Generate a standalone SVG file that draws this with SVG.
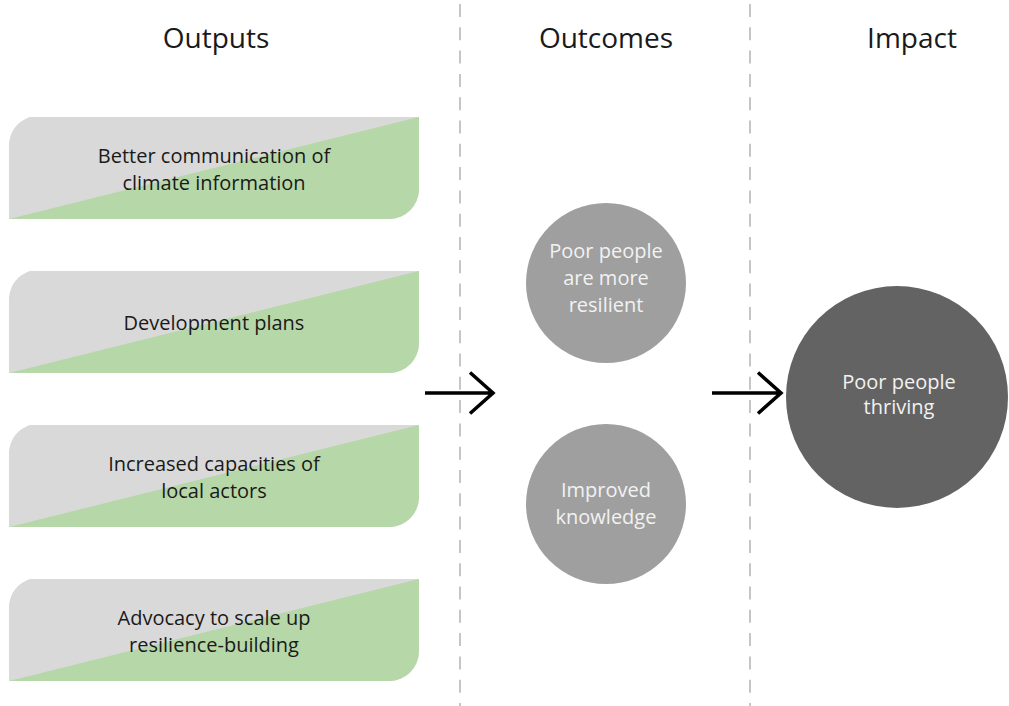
<svg xmlns="http://www.w3.org/2000/svg" width="1009" height="706" viewBox="0 0 1009 706">
  <defs>
    <style>
      .head { font-family: "Open Sans", "DejaVu Sans", sans-serif; font-size: 28px; fill: #1a1a1a; text-anchor: middle; }
      .lbl { font-family: "Open Sans", "DejaVu Sans", sans-serif; font-size: 20px; fill: #1a1a1a; text-anchor: middle; }
      .clbl { font-family: "Open Sans", "DejaVu Sans", sans-serif; font-size: 20px; fill: #f2f2f2; text-anchor: middle; }
      .sep { stroke: #a0a0a0; stroke-width: 1.2; stroke-dasharray: 13 10.3; fill: none; }
      .arrow { stroke: #000; stroke-width: 3.5; fill: none; }
      .grey { fill: #d9d9d9; }
      .green { fill: #b6d7a8; }
      .outcome { fill: #9f9f9f; }
      .impact { fill: #636363; }
    </style>
    <!-- output box shape: rounded top-left and bottom-right corners -->
    <path id="boxShape" d="M39,0 H410 V72 A30,30 0 0 1 380,102 H0 V30 A30,30 0 0 1 39,0 Z"/>
    <clipPath id="boxClip"><use href="#boxShape"/></clipPath>
    <g id="box">
      <g clip-path="url(#boxClip)">
        <rect class="grey" x="0" y="0" width="410" height="102"/>
        <polygon class="green" points="0,102 410,0 410,102"/>
      </g>
    </g>
  </defs>

  <rect width="1009" height="706" fill="#ffffff"/>

  <!-- column separators -->
  <g id="separators">
    <line class="sep" x1="460" y1="4" x2="460" y2="706"/>
    <line class="sep" x1="750" y1="4" x2="750" y2="706"/>
  </g>

  <!-- column headings -->
  <g id="headings">
    <text class="head" x="216" y="48">Outputs</text>
    <text class="head" x="606" y="48">Outcomes</text>
    <text class="head" x="912" y="48">Impact</text>
  </g>

  <!-- outputs -->
  <g id="output1" transform="translate(9,117)">
    <use href="#box"/>
    <text class="lbl" x="205" y="46">Better communication of</text>
    <text class="lbl" x="205" y="73">climate information</text>
  </g>
  <g id="output2" transform="translate(9,271)">
    <use href="#box"/>
    <text class="lbl" x="205" y="59">Development plans</text>
  </g>
  <g id="output3" transform="translate(9,425)">
    <use href="#box"/>
    <text class="lbl" x="205" y="46">Increased capacities of</text>
    <text class="lbl" x="205" y="73">local actors</text>
  </g>
  <g id="output4" transform="translate(9,579)">
    <use href="#box"/>
    <text class="lbl" x="205" y="46">Advocacy to scale up</text>
    <text class="lbl" x="205" y="73">resilience-building</text>
  </g>

  <!-- outcomes -->
  <g id="outcome1">
    <circle class="outcome" cx="606" cy="283" r="80"/>
    <text class="clbl" x="606" y="258">Poor people</text>
    <text class="clbl" x="606" y="285">are more</text>
    <text class="clbl" x="606" y="312">resilient</text>
  </g>
  <g id="outcome2">
    <circle class="outcome" cx="606" cy="504" r="80"/>
    <text class="clbl" x="606" y="497">Improved</text>
    <text class="clbl" x="606" y="524">knowledge</text>
  </g>

  <!-- impact -->
  <g id="impact">
    <circle class="impact" cx="897" cy="397" r="111"/>
    <text class="clbl" x="899" y="389">Poor people</text>
    <text class="clbl" x="899" y="414">thriving</text>
  </g>

  <!-- connectors -->
  <g id="connectors">
    <path class="arrow" d="M425,393 H494 M470,372.5 L493,393 L470,413.5"/>
    <path class="arrow" d="M712,393 H782 M758,372.5 L781,393 L758,413.5"/>
  </g>
</svg>
